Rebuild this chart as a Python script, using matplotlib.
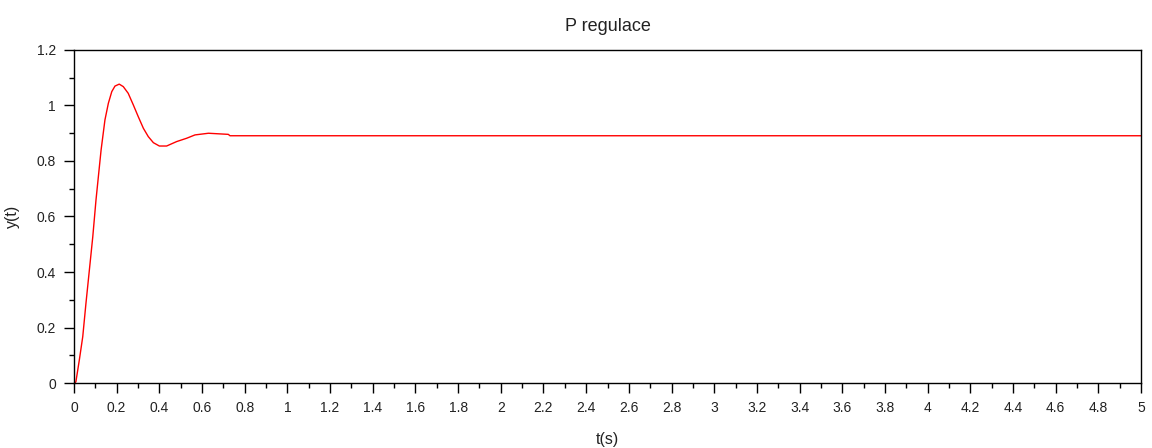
import matplotlib
matplotlib.use('Agg')
import matplotlib.pyplot as plt
from matplotlib.ticker import MultipleLocator, FuncFormatter

plt.rcParams['font.family'] = ['Liberation Sans', 'DejaVu Sans']

# step response
t = [0.0, 0.005, 0.009, 0.025, 0.041, 0.056, 0.072, 0.088, 0.103, 0.119,
     0.127, 0.137, 0.145, 0.161, 0.177, 0.192, 0.212, 0.231, 0.254, 0.278,
     0.301, 0.325, 0.348, 0.372, 0.4, 0.434, 0.481, 0.528, 0.567, 0.63,
     0.723, 0.731, 1.0, 2.0, 3.0, 4.0, 5.0]
y = [0.0, 0.0, 0.005, 0.083, 0.167, 0.287, 0.407, 0.527, 0.659, 0.78,
     0.84, 0.9, 0.948, 1.008, 1.05, 1.07, 1.077, 1.068, 1.044, 1.002,
     0.96, 0.918, 0.888, 0.866, 0.854, 0.854, 0.870, 0.882, 0.894, 0.90,
     0.896, 0.891, 0.891, 0.891, 0.891, 0.891, 0.891]

fig = plt.figure(figsize=(11.52, 4.48), dpi=100)
ax = fig.add_axes([74/1152, 1 - 383/448, (1141-74)/1152, (383-50)/448])

ax.plot(t, y, color='red', linewidth=1.0)

ax.set_xlim(0, 5)
ax.set_ylim(0, 1.2)
ax.xaxis.set_major_locator(MultipleLocator(0.2))
ax.xaxis.set_minor_locator(MultipleLocator(0.1))
ax.yaxis.set_major_locator(MultipleLocator(0.2))
ax.yaxis.set_minor_locator(MultipleLocator(0.1))
fmt = FuncFormatter(lambda v, p: '%g' % round(v, 2))
ax.xaxis.set_major_formatter(fmt)
ax.yaxis.set_major_formatter(fmt)

ax.tick_params(which='major', direction='out', length=7, width=1,
               labelsize=10, color='black', labelcolor='#222222', pad=6)
ax.tick_params(which='minor', direction='out', length=3.5, width=1, color='black')
ax.tick_params(top=False, right=False, which='both')
for s in ax.spines.values():
    s.set_linewidth(1)

ax.set_title('P regulace', fontsize=13, color='#222222', pad=14)
ax.set_xlabel('t(s)', fontsize=11.5, color='#222222', labelpad=12)
ax.set_ylabel('y(t)', fontsize=11.5, color='#222222', labelpad=12)

fig.savefig('out.png', dpi=100)
